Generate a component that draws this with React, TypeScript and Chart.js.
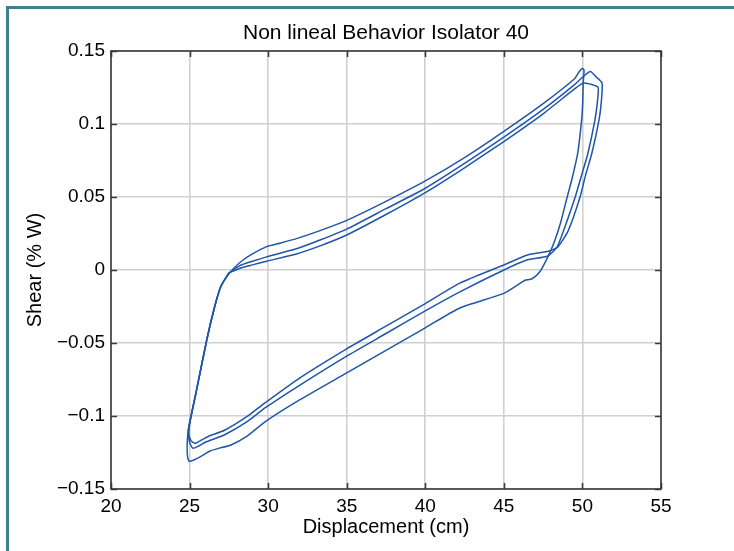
import React, { useEffect, useRef } from 'react';
import { Chart, registerables } from 'chart.js';

Chart.register(...registerables);

const FONT = '"Liberation Sans", Arial, Helvetica, sans-serif';

const chartTitle = 'Non lineal Behavior Isolator 40';
const xAxisTitle = 'Displacement (cm)';
const yAxisTitle = 'Shear (% W)';

const xTickValues = [20, 25, 30, 35, 40, 45, 50, 55];
const xTickLabels = ['20', '25', '30', '35', '40', '45', '50', '55'];
const yTickValues = [-0.15, -0.1, -0.05, 0, 0.05, 0.1, 0.15];
const yTickLabels = ['\u22120.15', '\u22120.1', '\u22120.05', '0', '0.05', '0.1', '0.15'];

// Cycle 1 (outer loop: upper top line, spike, lowest return line)
const loop1X = [
  27.4, 27.8, 28.3, 29.0, 29.9, 30.8, 31.8, 33.3, 35, 37.5, 40, 42.5, 45, 47.5, 49.5, 49.8, 50.0,
  50.1, 50.05, 50.02, 49.95, 49.7, 49.35, 49.03, 48.6, 48.2, 47.8, 47.3, 46.8, 46.35, 46.2,
  45, 42.2, 40, 37.5, 35, 32, 29.8, 28.64, 27.6, 26.9, 26.3, 25.67, 25.3, 24.97,
  24.85, 24.88, 25.03, 25.45, 26.09, 26.6, 27.0, 27.4,
];
const loop1Y = [
  -0.004, 0.001, 0.006, 0.011, 0.016, 0.0185, 0.0215, 0.027, 0.034, 0.047, 0.061, 0.077, 0.095, 0.114, 0.131, 0.136, 0.138,
  0.137, 0.128, 0.115, 0.103, 0.08, 0.063, 0.05, 0.032, 0.019, 0.009, -0.001, -0.006, -0.007, -0.008,
  -0.016, -0.026, -0.0396, -0.055, -0.0705, -0.089, -0.104, -0.114, -0.12, -0.122, -0.124, -0.128, -0.13, -0.131,
  -0.125, -0.113, -0.103, -0.082, -0.048, -0.025, -0.011, -0.004,
];

// Cycle 2
const loop2X = [
  27.5, 28.2, 29.0, 29.9, 31.8, 33.3, 35, 37.5, 40, 42.5, 45, 47.5, 49.5, 50.0, 50.5, 50.9, 51.25,
  51.2, 51.06, 50.6, 50.2, 49.85, 49.1, 48.45, 47.9,
  46.5, 45, 42.2, 40, 37.5, 35, 32, 29.8, 28.64, 27.26, 26.19, 25.77, 25.35,
  25.1, 24.95, 25.05, 25.45, 26.09, 26.6, 27.0, 27.5,
];
const loop2Y = [
  -0.002, 0.003, 0.006, 0.009, 0.0145, 0.0205, 0.028, 0.042, 0.056, 0.073, 0.091, 0.11, 0.127, 0.132, 0.136, 0.132, 0.128,
  0.115, 0.103, 0.08, 0.065, 0.05, 0.027, 0.016, 0.013,
  0.0103, 0.0034, -0.009, -0.023, -0.0385, -0.054, -0.074, -0.091, -0.1005, -0.1096, -0.114, -0.1164, -0.1187,
  -0.117, -0.112, -0.103, -0.082, -0.048, -0.025, -0.011, -0.002,
];

// Cycle 3
const loop3X = [
  27.5, 28.3, 29.0, 29.9, 31.8, 33.3, 35, 37.5, 40, 42.5, 45, 47.5, 49.5, 50.05, 50.6, 51.0,
  50.95, 50.8, 50.35, 49.95, 49.54, 48.9, 48.4, 47.8,
  46.5, 45, 42.2, 40, 37.5, 35, 32, 29.8, 28.64, 27.2, 26.0, 25.5, 25.2,
  25.0, 24.92, 25.04, 25.45, 26.09, 26.6, 27.0, 27.5,
];
const loop3Y = [
  -0.002, 0.0015, 0.0035, 0.006, 0.011, 0.0165, 0.024, 0.038, 0.053, 0.07, 0.088, 0.107, 0.124, 0.128, 0.127, 0.125,
  0.115, 0.103, 0.08, 0.065, 0.05, 0.03, 0.016, 0.0096,
  0.007, 0.0, -0.015, -0.028, -0.0435, -0.059, -0.079, -0.0945, -0.104, -0.113, -0.118, -0.121, -0.122,
  -0.118, -0.11, -0.103, -0.082, -0.048, -0.025, -0.011, -0.002,
];

const loops = [
  [loop1X, loop1Y],
  [loop2X, loop2Y],
  [loop3X, loop3Y],
];

const LINE_COLOR = '#1f56aa';

const framePlugin = {
  id: 'matlabFrame',
  afterDraw(chart: any) {
    const { ctx, chartArea, scales } = chart;
    const { left, right, top, bottom } = chartArea;
    const xs = scales.x;
    const ys = scales.y;
    ctx.save();
    ctx.strokeStyle = '#3a3a3a';
    ctx.lineWidth = 1.6;
    ctx.beginPath();
    const tl = 6;
    for (const v of xTickValues) {
      const px = Math.round(xs.getPixelForValue(v)) + 0.5;
      ctx.moveTo(px, bottom);
      ctx.lineTo(px, bottom - tl);
      ctx.moveTo(px, top);
      ctx.lineTo(px, top + tl);
    }
    for (const v of yTickValues) {
      const py = Math.round(ys.getPixelForValue(v)) + 0.5;
      ctx.moveTo(left, py);
      ctx.lineTo(left + tl, py);
      ctx.moveTo(right, py);
      ctx.lineTo(right - tl, py);
    }
    ctx.stroke();
    ctx.strokeRect(left, top, right - left, bottom - top);
    ctx.fillStyle = '#000';
    ctx.font = `21px ${FONT}`;
    ctx.textAlign = 'center';
    ctx.textBaseline = 'middle';
    ctx.fillText(chartTitle, (left + right) / 2, 33);
    ctx.restore();
  },
};

export default function App() {
  const canvasRef = useRef<HTMLCanvasElement | null>(null);

  useEffect(() => {
    const canvas = canvasRef.current;
    if (!canvas) return;
    Chart.defaults.font.family = FONT;
    const datasets = loops.map(([xs, ys], i) => ({
      label: `Cycle ${i + 1}`,
      data: xs.map((x, j) => ({ x, y: ys[j] })),
      showLine: true,
      borderColor: LINE_COLOR,
      backgroundColor: LINE_COLOR,
      borderWidth: 1.5,
      pointRadius: 0,
      tension: 0.2,
      fill: false,
    }));
    const chart = new Chart(canvas, {
      type: 'scatter',
      data: { datasets },
      plugins: [framePlugin],
      options: {
        animation: false,
        responsive: false,
        devicePixelRatio: 1,
        layout: { padding: { left: 0, top: 51, right: 73, bottom: 0 } },
        plugins: {
          legend: { display: false },
          tooltip: { enabled: false },
          title: { display: false },
        },
        scales: {
          x: {
            type: 'linear',
            min: 20,
            max: 55,
            afterBuildTicks: (s: any) => {
              s.ticks = xTickValues.map((v) => ({ value: v }));
            },
            afterFit: (s: any) => {
              s.height = 62;
            },
            ticks: {
              autoSkip: false,
              maxRotation: 0,
              color: '#000',
              padding: 6,
              font: { size: 19, family: FONT },
              callback: (v: any) => xTickLabels[xTickValues.indexOf(Number(v))],
            },
            grid: { color: '#d0d0d0', lineWidth: 1.6, drawTicks: false },
            border: { display: false },
            title: {
              display: true,
              text: xAxisTitle,
              color: '#000',
              font: { size: 20, family: FONT },
              padding: { top: 0, bottom: 12 },
            },
          },
          y: {
            type: 'linear',
            min: -0.15,
            max: 0.15,
            afterBuildTicks: (s: any) => {
              s.ticks = yTickValues.map((v) => ({ value: v }));
            },
            afterFit: (s: any) => {
              s.width = 111;
            },
            ticks: {
              autoSkip: false,
              color: '#000',
              padding: 6,
              font: { size: 19, family: FONT },
              callback: (v: any) => yTickLabels[yTickValues.indexOf(Number(v))],
            },
            grid: { color: '#d0d0d0', lineWidth: 1.6, drawTicks: false },
            border: { display: false },
            title: {
              display: true,
              text: yAxisTitle,
              color: '#000',
              font: { size: 20, family: FONT },
              padding: { top: 23, bottom: 0 },
            },
          },
        },
      },
    });
    return () => chart.destroy();
  }, []);

  return (
    <div style={{ position: 'fixed', left: 0, top: 0, width: 734, height: 551, background: '#fff', overflow: 'hidden' }}>
      <canvas ref={canvasRef} width={734} height={551} style={{ position: 'absolute', left: 0, top: 0, width: 734, height: 551 }} />
      <div
        style={{
          position: 'absolute',
          left: 6,
          top: 6,
          width: 728,
          height: 545,
          borderLeft: '3px solid #41808d',
          borderTop: '3px solid #41808d',
          boxSizing: 'border-box',
          pointerEvents: 'none',
        }}
      />
    </div>
  );
}
